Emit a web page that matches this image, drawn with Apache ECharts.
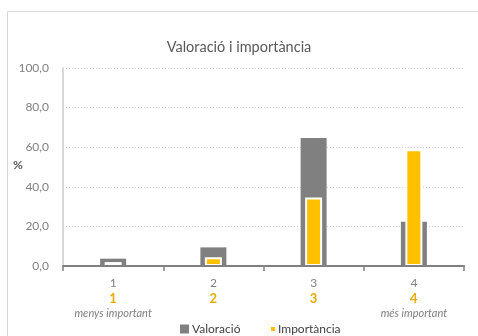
<!DOCTYPE html>
<html>
<head>
<meta charset="utf-8">
<script src="https://cdn.jsdelivr.net/npm/echarts@6/dist/echarts.min.js"></script>
<style>
  html, body { margin: 0; padding: 0; background: #fff; }
  #chart { width: 478px; height: 336px; }
</style>
</head>
<body>
<div id="chart"></div>
<script>
// Categories and series values (%)
const categories = ['1', '2', '3', '4'];
const subLabels = ['menys important', '', '', 'més important'];
const valoracio = [3.7, 9.4, 64.6, 22.3];
const importancia = [2.0, 4.4, 34.6, 59.0];
const yTicks = { min: 0, max: 100, interval: 20 };

const FONT = 'Lato';
const GREY = '#808080';
const GOLD = '#FFC000';

const chart = echarts.init(document.getElementById('chart'));

function catLabel(value, idx) {
  let s = '{a|' + value + '}\n{b|' + value + '}';
  s += '\n{c|' + (subLabels[idx] || ' ') + '}';
  return s;
}

const baseX = {
  type: 'category',
  data: categories,
  boundaryGap: true
};

chart.setOption({
  animation: false,
  textStyle: { fontFamily: FONT },
  title: {
    text: 'Valoració i importància',
    left: 'center',
    top: 35,
    textStyle: { fontFamily: FONT, fontSize: 14.5, fontWeight: 'normal', color: '#595959' }
  },
  graphic: [
    {
      type: 'rect',
      shape: { x: 7.5, y: 11.5, width: 480, height: 340 },
      style: { fill: 'none', stroke: '#d9d9d9', lineWidth: 1 },
      silent: true
    },
    {
      type: 'text',
      left: 13,
      top: 159,
      style: { text: '%', font: 'bold 12px ' + FONT, fill: '#595959' }
    }
  ],
  legend: [
    {
      data: ['Valoració'],
      left: 175,
      top: 318,
      icon: 'rect',
      itemWidth: 9,
      itemHeight: 9,
      itemGap: 4,
      textStyle: { fontFamily: FONT, fontSize: 12, color: '#404040', padding: [0, 0, 0, -2] }
    },
    {
      data: ['Importància'],
      left: 264,
      top: 318,
      icon: 'rect',
      itemWidth: 6,
      itemHeight: 6,
      textStyle: { fontFamily: FONT, fontSize: 12, color: '#404040', padding: [0, 0, 0, -3] }
    }
  ],
  grid: { left: 63, right: 14, top: 68, bottom: 70 },
  xAxis: [
    Object.assign({}, baseX, {
      z: 5,
      axisLine: { lineStyle: { color: GREY, width: 2 } },
      axisTick: { show: true, length: 5, lineStyle: { color: GREY, width: 1.5 } },
      axisLabel: {
        interval: 0,
        margin: 10,
        formatter: catLabel,
        rich: {
          a: { fontFamily: FONT, fontSize: 12, color: '#808080', lineHeight: 15 },
          b: { fontFamily: FONT, fontSize: 13, fontWeight: 'bold', color: '#E6AC00', lineHeight: 15 },
          c: { fontFamily: FONT, fontSize: 11, fontStyle: 'italic', color: '#808080', lineHeight: 15 }
        }
      }
    }),
    Object.assign({}, baseX, { show: false })
  ],
  yAxis: {
    type: 'value',
    min: yTicks.min,
    max: yTicks.max,
    interval: yTicks.interval,
    axisLine: { show: true, lineStyle: { color: '#d9d9d9', width: 2 } },
    axisTick: { show: false },
    axisLabel: {
      margin: 14,
      fontFamily: FONT,
      fontSize: 12,
      color: '#808080',
      formatter: v => v.toFixed(1).replace('.', ',')
    },
    splitLine: { lineStyle: { color: '#d0d0d0', type: [1, 2], width: 1 } }
  },
  series: [
    {
      name: 'Valoració',
      type: 'bar',
      xAxisIndex: 0,
      data: valoracio,
      barWidth: 26,
      itemStyle: { color: GREY }
    },
    {
      name: 'Importància',
      type: 'bar',
      xAxisIndex: 1,
      data: importancia,
      barWidth: 17,
      itemStyle: { color: GOLD, borderColor: '#ffffff', borderWidth: 2 },
      z: 3
    }
  ]
});
</script>
</body>
</html>
